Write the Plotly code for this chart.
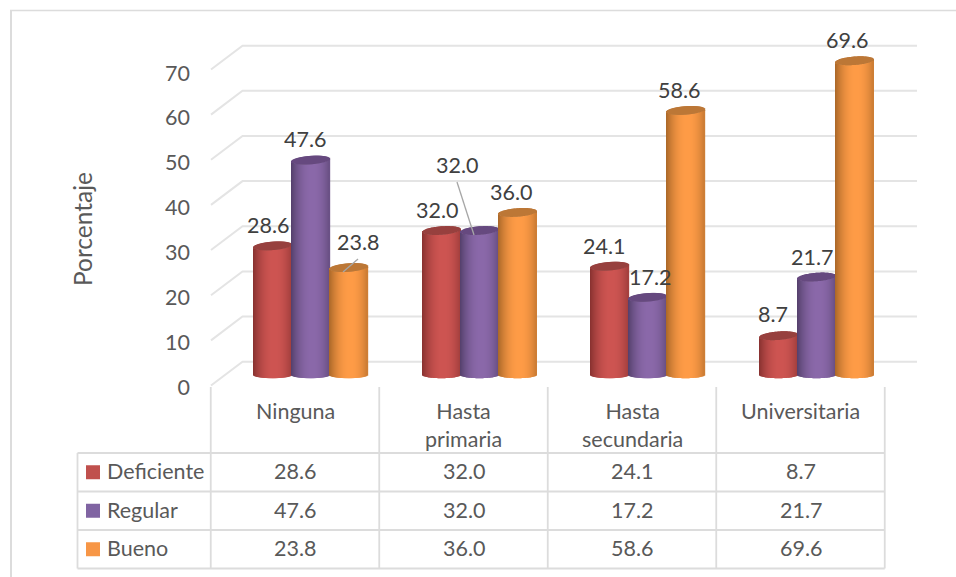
import numpy as np
import plotly.graph_objects as go

# --- data ---
categories = ["Ninguna", "Hasta<br>primaria", "Hasta<br>secundaria", "Universitaria"]
series_names = ["Deficiente", "Regular", "Bueno"]
deficiente = [28.6, 32.0, 24.1, 8.7]
regular = [47.6, 32.0, 17.2, 21.7]
bueno = [23.8, 36.0, 58.6, 69.6]
y_ticks = [0, 10, 20, 30, 40, 50, 60, 70]

# --- styles ---
FONT = "Lato"
TEXT = "#595959"
LABEL = "#404040"
LINE = "#DCDCDC"
GRID = "#E4E4E4"
LIGHT = ["#CE5552", "#8B69AA", "#FF9C47"]
EDGE = ["#873130", "#54406B", "#A96728"]
CAP = ["#97403E", "#66497F", "#BC7736"]
KEYS = ["#C0504D", "#8064A2", "#F79646"]
SIZE = 21.5

W, H = 956, 577
CELL = 168.5            # category width, px
X0 = 295                # centre of first category, px
Y0 = 375                # value 0 at mid depth, px
PPU = 4.515             # px per percentage point
BAR_W = 38
GROUP_SHIFT = 16        # columns sit right of the cell centre
DEPTH_BACK = 13.3
DEPTH_FRONT = 10.5


def xu(px):
    return (px - X0) / CELL


def yu(px):
    return (Y0 - px) / PPU


def xp(px):
    return px / W


def yp(px):
    return 1 - px / H


def hex_rgb(c):
    return np.array([int(c[i:i + 2], 16) for i in (1, 3, 5)], dtype=float)


def shade(light, edge, u):
    # cylinder shading: bright just right of centre, falling off to both edges
    t = np.clip(abs(u - 0.12) / 1.12, 0, 1) ** 2.1
    rgb = hex_rgb(light) * (1 - t) + hex_rgb(edge) * t
    return "rgb(%d,%d,%d)" % tuple(rgb)


fig = go.Figure()

# one-pixel strips make up each column, with elliptical base and cap
strip_u = (np.arange(BAR_W) + 0.5) / BAR_W * 2 - 1
arc = np.sqrt(1 - strip_u ** 2)
CAP_B, BASE_B, TILT = 4.2 / PPU, 3.2 / PPU, 1.4 / PPU

for s, values in enumerate([deficiente, regular, bueno]):
    bx, bbase, bh, bcol = [], [], [], []
    cx, cbase, ch = [], [], []
    for c, v in enumerate(values):
        centre = c + (GROUP_SHIFT + (s - 1) * BAR_W) / CELL
        for u, a in zip(strip_u, arc):
            x = centre + u * (BAR_W / 2) / CELL
            bottom = -BASE_B * a
            front = v - CAP_B * a + TILT * u
            back = v + CAP_B * a + TILT * u
            bx.append(x)
            bbase.append(bottom)
            bh.append(front - bottom)
            bcol.append(shade(LIGHT[s], EDGE[s], u))
            cx.append(x)
            cbase.append(front)
            ch.append(back - front)
    fig.add_trace(go.Bar(x=bx, y=bh, base=bbase, width=1.35 / CELL,
                         marker=dict(color=bcol, line_width=0),
                         hoverinfo="skip", showlegend=False))
    fig.add_trace(go.Bar(x=cx, y=ch, base=cbase, width=1.35 / CELL,
                         marker=dict(color=CAP[s], line_width=0),
                         hoverinfo="skip", showlegend=False))

# carrier for the shifted tick-label axis (labels align with the front edge)
fig.add_trace(go.Scatter(x=[0] * len(y_ticks), y=y_ticks, yaxis="y2", mode="markers",
                         marker=dict(opacity=0), hoverinfo="skip", showlegend=False))

shapes = []

# gridlines: oblique side wall, then along the back wall
for v in y_ticks:
    yb = v + DEPTH_BACK / PPU
    yf = v - DEPTH_FRONT / PPU
    shapes.append(dict(type="path", xref="x", yref="y", layer="below",
                       path=f"M {xu(211)} {yf} L {xu(242.5)} {yb} L {xu(917)} {yb}",
                       line=dict(color=GRID, width=2)))


def hline(y, x0, x1, width=1.6, color=LINE):
    shapes.append(dict(type="line", xref="paper", yref="paper", layer="below",
                       x0=xp(x0), x1=xp(x1), y0=yp(y), y1=yp(y),
                       line=dict(color=color, width=width)))


def vline(x, y0, y1, width=1.6, color=LINE):
    shapes.append(dict(type="line", xref="paper", yref="paper", layer="below",
                       x0=xp(x), x1=xp(x), y0=yp(y0), y1=yp(y1),
                       line=dict(color=color, width=width)))


# chart frame
hline(10.5, 10, W, width=1.6)
vline(11, 10, H, width=2)

# data table grid
ROWS = [453, 491.5, 530, 568.5]
COLS = [X0 - CELL / 2 + CELL * i for i in range(5)]
for r in ROWS:
    hline(r, 77.5, COLS[-1], width=1.8)
vline(77.5, ROWS[0], ROWS[-1], width=1.8)
for x in COLS:
    vline(x, 387, ROWS[-1], width=1.8)

# legend keys inside the table
annotations = []
for s, name in enumerate(series_names):
    yc = (ROWS[s] + ROWS[s + 1]) / 2
    shapes.append(dict(type="rect", xref="paper", yref="paper",
                       x0=xp(86), x1=xp(100), y0=yp(yc - 7), y1=yp(yc + 7),
                       fillcolor=KEYS[s], line_width=0))
    annotations.append(dict(xref="paper", yref="paper", x=xp(105), y=yp(yc - 1), text=name,
                            xanchor="left", yanchor="middle", showarrow=False,
                            font=dict(family=FONT, size=SIZE, color=TEXT)))

# table values
for s, values in enumerate([deficiente, regular, bueno]):
    yc = (ROWS[s] + ROWS[s + 1]) / 2
    for c, v in enumerate(values):
        annotations.append(dict(xref="x", yref="paper", x=c, y=yp(yc - 1), text=f"{v:.1f}",
                                xanchor="center", yanchor="middle", showarrow=False,
                                font=dict(family=FONT, size=SIZE, color=TEXT)))

# category labels
for c, name in enumerate(categories):
    annotations.append(dict(xref="x", yref="paper", x=c, y=yp(396), text=name,
                            xanchor="center", yanchor="top", showarrow=False, align="center",
                            font=dict(family=FONT, size=SIZE, color=TEXT)))

# axis title
annotations.append(dict(xref="paper", yref="paper", x=xp(82), y=yp(229), text="Porcentaje",
                        textangle=-90, xanchor="center", yanchor="middle", showarrow=False,
                        font=dict(family=FONT, size=24.5, color=TEXT)))

# data labels: offsets in px from the top of each column, one row per series
label_shift = [
    [(-5, 21), (-4.5, 20.5), (-6, 20), (-5.5, 21.7)],
    [(-6, 21), (-22.5, 65.5), (2, 20), (-4.5, 20)],
    [(9, 25.5), (-6.5, 20.5), (-7, 20.4), (-7.5, 20.8)],
]
for s, values in enumerate([deficiente, regular, bueno]):
    for c, v in enumerate(values):
        dx, dy = label_shift[s][c]
        centre = c + (GROUP_SHIFT + (s - 1) * BAR_W) / CELL
        annotations.append(dict(xref="x", yref="y", x=centre, y=v, text=f"{v:.1f}",
                                xshift=dx, yshift=dy, xanchor="center", yanchor="middle",
                                showarrow=False,
                                font=dict(family=FONT, size=SIZE, color=LABEL)))

# leader lines for the two labels that sit away from their columns
leaders = [((358, 259), (343, 272)), ((457, 182), (474, 235))]
for p0, p1 in leaders:
    fig.add_trace(go.Scatter(x=[xu(p0[0]), xu(p1[0])], y=[yu(p0[1]), yu(p1[1])],
                             mode="lines", line=dict(color="#A6A6A6", width=1.3),
                             hoverinfo="skip", showlegend=False))

fig.update_layout(
    width=W, height=H, autosize=False,
    margin=dict(l=0, r=0, t=0, b=0),
    paper_bgcolor="white", plot_bgcolor="rgba(0,0,0,0)",
    barmode="overlay", showlegend=False,
    shapes=shapes, annotations=annotations,
    xaxis=dict(range=[xu(0), xu(W)], domain=[0, 1], visible=False, fixedrange=True),
    yaxis=dict(range=[yu(H), yu(0)], domain=[0, 1], visible=False, fixedrange=True),
    yaxis2=dict(overlaying="y", anchor="free", position=xp(190), side="left",
                range=[(387 - H) / 4.486, 387 / 4.486], tickmode="array", tickvals=y_ticks,
                showgrid=False, zeroline=False, showline=False, ticks="",
                tickfont=dict(family=FONT, size=SIZE, color=TEXT), fixedrange=True),
)

fig.write_html("out.html", config=dict(displayModeBar=False))
